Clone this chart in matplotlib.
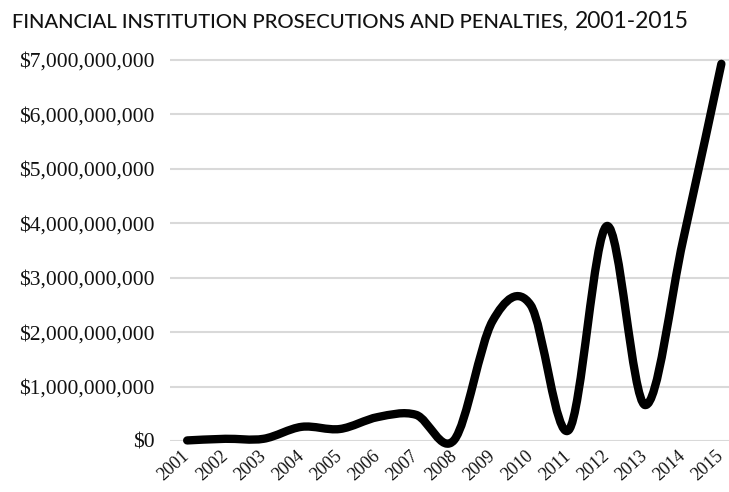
import numpy as np
import matplotlib.pyplot as plt
from matplotlib.path import Path
from matplotlib.patches import PathPatch
from matplotlib.ticker import FuncFormatter

# Penalties per year (USD)
years = [2001, 2002, 2003, 2004, 2005, 2006, 2007, 2008,
         2009, 2010, 2011, 2012, 2013, 2014, 2015]
penalties = [0.01e9, 0.04e9, 0.04e9, 0.26e9, 0.22e9, 0.44e9, 0.48e9, 0.02e9,
             2.2e9, 2.5e9, 0.2e9, 3.95e9, 0.66e9, 3.7e9, 6.93e9]
y_ticks = [0, 1e9, 2e9, 3e9, 4e9, 5e9, 6e9, 7e9]

fig = plt.figure(figsize=(7.29, 4.92), dpi=100)
ax = fig.add_axes([0.2332, 0.1037, 0.7668, 0.7843])

# smoothed line (Bezier segments through the data points, like a spreadsheet "smooth line")
x = np.array(years, dtype=float)
y = np.array(penalties, dtype=float)
verts = [(x[0], y[0])]
codes = [Path.MOVETO]
n = len(x)
for i in range(n - 1):
    p0 = np.array([x[max(i - 1, 0)], y[max(i - 1, 0)]])
    p1 = np.array([x[i], y[i]])
    p2 = np.array([x[i + 1], y[i + 1]])
    p3 = np.array([x[min(i + 2, n - 1)], y[min(i + 2, n - 1)]])
    c1 = p1 + (p2 - p0) / 6
    c2 = p2 - (p3 - p1) / 6
    verts += [tuple(c1), tuple(c2), tuple(p2)]
    codes += [Path.CURVE4] * 3
patch = PathPatch(Path(verts, codes), facecolor="none", edgecolor="black",
                  lw=6, capstyle="round", joinstyle="round", clip_on=False, zorder=3)
ax.add_patch(patch)

ax.set_xlim(2000.55, 2015.2)
ax.set_ylim(0, 7.09e9)
ax.set_yticks(y_ticks)
ax.yaxis.set_major_formatter(FuncFormatter(lambda v, p: "${:,.0f}".format(v)))
ax.set_xticks(years)
ax.set_xticklabels([str(yr) for yr in years], rotation=42, ha="right", va="center",
                   rotation_mode="anchor", fontsize=13, family="Liberation Serif",
                   color="#111111")
for lbl in ax.get_yticklabels():
    lbl.set_family("Liberation Serif")
    lbl.set_fontsize(15.5)
    lbl.set_color("#111111")
ax.tick_params(axis="both", length=0)
ax.tick_params(axis="y", pad=11)
ax.tick_params(axis="x", pad=9)
ax.grid(axis="y", color="#d9d9d9", lw=1.5)
ax.set_axisbelow(True)
for s in ax.spines.values():
    s.set_visible(False)

t1 = fig.text(0.016, 0.955, "FINANCIAL INSTITUTION PROSECUTIONS AND PENALTIES,", family="Lato",
              fontsize=14.6, fontweight="medium", color="#111111", va="center", ha="left")
fig.canvas.draw()
bb = t1.get_window_extent()
fig.text(bb.x1 / fig.bbox.width + 0.01, 0.957, "2001-2015", family="Lato", fontsize=16.5,
         color="#111111", va="center", ha="left")

fig.savefig("out.png", dpi=100)
